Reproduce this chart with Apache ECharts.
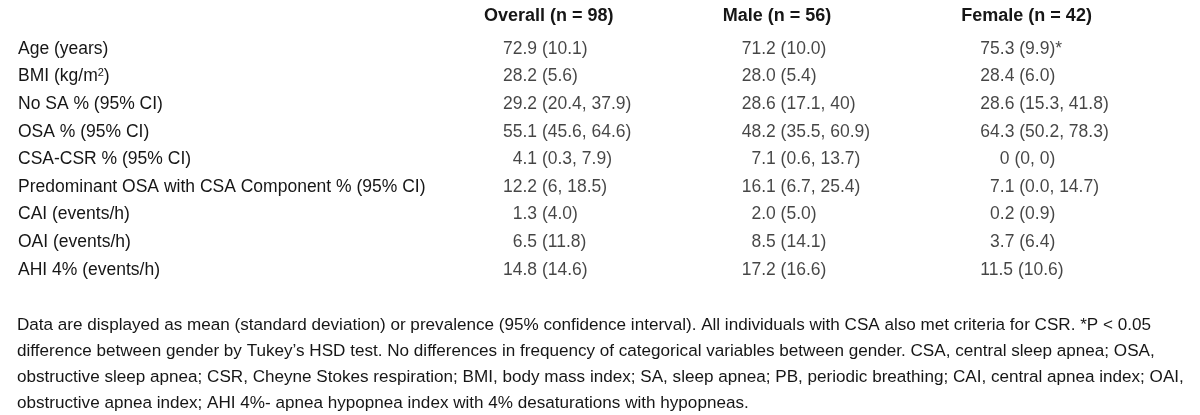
<!DOCTYPE html>
<html>
<head>
<meta charset="utf-8">
<script src="https://cdn.jsdelivr.net/npm/echarts@6/dist/echarts.min.js"></script>
<style>
html,body{margin:0;padding:0;background:#fff;}
#chart{width:1200px;height:415px;}
</style>
</head>
<body>
<div id="chart"></div>
<script>
// ---- data ----
var columnHeaders = ['Overall (n = 98)', 'Male (n = 56)', 'Female (n = 42)'];
var rowLabels = [
  'Age (years)',
  'BMI (kg/m²)',
  'No SA % (95% CI)',
  'OSA % (95% CI)',
  'CSA-CSR % (95% CI)',
  'Predominant OSA with CSA Component % (95% CI)',
  'CAI (events/h)',
  'OAI (events/h)',
  'AHI 4% (events/h)'
];
var overallValues = ['72.9 (10.1)', '28.2 (5.6)', '29.2 (20.4, 37.9)', '55.1 (45.6, 64.6)', '4.1 (0.3, 7.9)', '12.2 (6, 18.5)', '1.3 (4.0)', '6.5 (11.8)', '14.8 (14.6)'];
var maleValues = ['71.2 (10.0)', '28.0 (5.4)', '28.6 (17.1, 40)', '48.2 (35.5, 60.9)', '7.1 (0.6, 13.7)', '16.1 (6.7, 25.4)', '2.0 (5.0)', '8.5 (14.1)', '17.2 (16.6)'];
var femaleValues = ['75.3 (9.9)*', '28.4 (6.0)', '28.6 (15.3, 41.8)', '64.3 (50.2, 78.3)', '0 (0, 0)', '7.1 (0.0, 14.7)', '0.2 (0.9)', '3.7 (6.4)', '11.5 (10.6)'];
var footnoteLines = [
  'Data are displayed as mean (standard deviation) or prevalence (95% confidence interval). All individuals with CSA also met criteria for CSR. *P < 0.05',
  'difference between gender by Tukey\u2019s HSD test. No differences in frequency of categorical variables between gender. CSA, central sleep apnea; OSA,',
  'obstructive sleep apnea; CSR, Cheyne Stokes respiration; BMI, body mass index; SA, sleep apnea; PB, periodic breathing; CAI, central apnea index; OAI,',
  'obstructive apnea index; AHI 4%- apnea hypopnea index with 4% desaturations with hypopneas.'
];

// ---- rendering ----
var FONT = '"Liberation Sans", Arial, sans-serif';
var FS = 17.5;
var NFS = 17.1;
var HFS = 18;
var COLOR = '#161616';

var ctx = document.createElement('canvas').getContext('2d');
ctx.font = FS + 'px ' + FONT;
var digitW = ctx.measureText('0').width;

function cellOffset(txt) {
  var m = /^(\d+)\./.exec(txt);
  var intLen = m ? m[1].length : 0;
  return 19 + (2 - intLen) * digitW;
}

function makeSeries(values, col) {
  return {
    type: 'scatter',
    symbolSize: 0.001,
    itemStyle: { color: 'rgba(0,0,0,0)' },
    silent: true,
    data: values.map(function (v, i) {
      return {
        value: [col, i],
        label: {
          show: true,
          formatter: v,
          position: [cellOffset(v), 0],
          align: 'left',
          verticalAlign: 'middle',
          fontFamily: FONT,
          fontSize: FS,
          color: COLOR
        }
      };
    })
  };
}

var chart = echarts.init(document.getElementById('chart'), null, { renderer: 'canvas' });
var rowH = 27.6;
var colW = 250;
chart.setOption({
  backgroundColor: '#ffffff',
  animation: false,
  title: {
    text: footnoteLines.join('\n'),
    left: 17,
    top: 312,
    padding: 0,
    textStyle: {
      fontFamily: FONT,
      fontSize: NFS,
      fontWeight: 'normal',
      lineHeight: 26,
      color: COLOR
    }
  },
  grid: {
    left: 484,
    top: 35.2,
    width: colW * 3,
    height: rowH * rowLabels.length,
    containLabel: false
  },
  xAxis: {
    type: 'value',
    position: 'top',
    min: 0,
    max: 3,
    interval: 1,
    axisLine: { show: false },
    axisTick: { show: false },
    splitLine: { show: false },
    axisLabel: {
      margin: 10,
      align: 'left',
      fontFamily: FONT,
      fontSize: HFS,
      fontWeight: 'bold',
      color: COLOR,
      showMaxLabel: false,
      formatter: function (v) { return columnHeaders[v] || ''; }
    }
  },
  yAxis: {
    type: 'category',
    inverse: true,
    data: rowLabels,
    axisLine: { show: false },
    axisTick: { show: false },
    splitLine: { show: false },
    axisLabel: {
      margin: 466,
      align: 'left',
      fontFamily: FONT,
      fontSize: FS,
      color: COLOR,
      formatter: function (v) { return v.replace('²', '{sup|2}'); },
      rich: {
        sup: { fontFamily: FONT, fontSize: 11, color: COLOR, verticalAlign: 'top', padding: [0, 0, 7, 0] }
      }
    }
  },
  series: [
    makeSeries(overallValues, 0),
    makeSeries(maleValues, 1),
    makeSeries(femaleValues, 2)
  ]
});
</script>
</body>
</html>
